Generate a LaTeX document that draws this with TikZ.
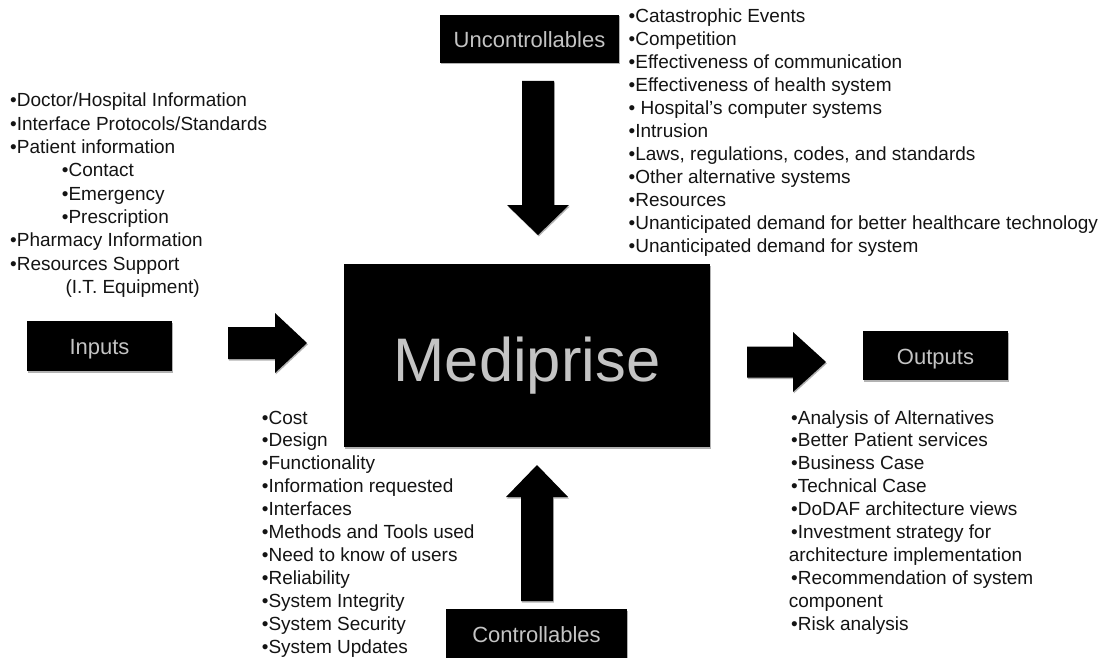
\documentclass[tikz,border=0pt]{standalone}
\usepackage{fontspec}
\setmainfont{Liberation Sans}
\usetikzlibrary{shadows}

\definecolor{labelgray}{HTML}{C4C4C4}
\definecolor{listink}{HTML}{141414}

\tikzset{
  softshadow/.style={drop shadow={shadow xshift=0.8pt, shadow yshift=-1.5pt, opacity=0.3, fill=black}},
  blackbox/.style={fill=black, draw=none, inner sep=0pt, softshadow,
    text=labelgray, font=\fontsize{22}{26}\selectfont,
    text height=17.75pt, text depth=0pt},
  bigbox/.style={blackbox, font=\fontsize{61.5}{70}\selectfont,
    text height=51.6pt, text depth=0pt},
  item/.style={anchor=base west, inner sep=0pt, text=listink,
    font=\fontsize{19}{23}\selectfont},
  blockarrow/.style={fill=black, draw=none, softshadow}
}

\begin{document}
\begin{tikzpicture}[x=1pt, y=-1pt]
\clip (0,0) rectangle (1105,658);
\fill[white] (0,0) rectangle (1105,658);

% central system block
\node[bigbox, minimum width=366pt, minimum height=183pt] (medi) at (527,355.5) {Mediprise};

% surrounding category blocks
\node[blackbox, minimum width=179pt, minimum height=48pt] (unctrl) at (529.5,39) {Uncontrollables};
\node[blackbox, minimum width=145pt, minimum height=50pt] (inputs) at (99.5,346) {Inputs};
\node[blackbox, minimum width=145pt, minimum height=49pt] (outputs) at (935.5,355.5) {Outputs};
\node[blackbox, minimum width=181pt, minimum height=50pt] (ctrl) at (536.5,634) {Controllables};

% block arrows
\fill[blockarrow] (228,327) -- (275,327) -- (275,313) -- (307,343)
  -- (275,373) -- (275,359) -- (228,359) -- cycle;
\fill[blockarrow] (747,346.5) -- (793,346.5) -- (793,332) -- (826,362)
  -- (793,392) -- (793,377.5) -- (747,377.5) -- cycle;
\fill[blockarrow] (522,81) -- (554,81) -- (554,205) -- (569,205)
  -- (538,235) -- (507,205) -- (522,205) -- cycle;
\fill[blockarrow] (521,601) -- (553,601) -- (553,497) -- (568,497)
  -- (537,465) -- (506,497) -- (521,497) -- cycle;

% input items
\node[item] (in1) at (10,107)    {•Doctor/Hospital Information};
\node[item] (in2) at (10,130.3)  {•Interface Protocols/Standards};
\node[item] (in3) at (10,153.6)  {•Patient information};
\node[item] (in4) at (61.7,176.9) {•Contact};
\node[item] (in5) at (61.7,200.2) {•Emergency};
\node[item] (in6) at (61.7,223.5) {•Prescription};
\node[item] (in7) at (10,246.8)  {•Pharmacy Information};
\node[item] (in8) at (10,270.1)  {•Resources Support};
\node[item] (in9) at (65.4,293.4) {(I.T. Equipment)};

% uncontrollable factors
\node[item] (u1)  at (628.5,22.7)  {•Catastrophic Events};
\node[item] (u2)  at (628.5,45.7)  {•Competition};
\node[item] (u3)  at (628.5,68.7)  {•Effectiveness of communication};
\node[item] (u4)  at (628.5,91.7)  {•Effectiveness of health system};
\node[item] (u5)  at (628.5,114.7) {• Hospital’s computer systems};
\node[item] (u6)  at (628.5,137.7) {•Intrusion};
\node[item] (u7)  at (628.5,160.7) {•Laws, regulations, codes, and standards};
\node[item] (u8)  at (628.5,183.7) {•Other alternative systems};
\node[item] (u9)  at (628.5,206.7) {•Resources};
\node[item] (u10) at (628.5,229.7) {•Unanticipated demand for better healthcare technology};
\node[item] (u11) at (628.5,252.7) {•Unanticipated demand for system};

% controllable factors
\node[item] (c1)  at (261.7,424)    {•Cost};
\node[item] (c2)  at (261.7,446.95) {•Design};
\node[item] (c3)  at (261.7,469.9)  {•Functionality};
\node[item] (c4)  at (261.7,492.85) {•Information requested};
\node[item] (c5)  at (261.7,515.8)  {•Interfaces};
\node[item] (c6)  at (261.7,538.75) {•Methods and Tools used};
\node[item] (c7)  at (261.7,561.7)  {•Need to know of users};
\node[item] (c8)  at (261.7,584.65) {•Reliability};
\node[item] (c9)  at (261.7,607.6)  {•System Integrity};
\node[item] (c10) at (261.7,630.55) {•System Security};
\node[item] (c11) at (261.7,653.5)  {•System Updates};

% outputs
\node[item] (o1)  at (791,424)   {•Analysis of Alternatives};
\node[item] (o2)  at (791,446.9) {•Better Patient services};
\node[item] (o3)  at (791,469.8) {•Business Case};
\node[item] (o4)  at (791,492.7) {•Technical Case};
\node[item] (o5)  at (791,515.6) {•DoDAF architecture views};
\node[item] (o6)  at (791,538.5) {•Investment strategy for};
\node[item] (o7)  at (788.6,561.4) {architecture implementation};
\node[item] (o8)  at (791,584.3) {•Recommendation of system};
\node[item] (o9)  at (788.6,607.2) {component};
\node[item] (o10) at (791,630.1) {•Risk analysis};
\end{tikzpicture}
\end{document}
